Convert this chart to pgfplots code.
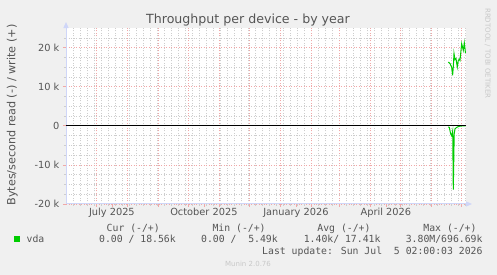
\documentclass[border=0pt]{standalone}
\usepackage{fontspec}
\setmainfont{DejaVu Sans}
\newfontfamily\monofont{DejaVu Sans Mono}
\usepackage{pgfplots}
\pgfplotsset{compat=1.18}
\usetikzlibrary{arrows.meta}
\definecolor{bgc}{HTML}{F0F0F0}
\definecolor{fontc}{HTML}{555555}
\definecolor{axisc}{HTML}{CFD6F8}
\definecolor{vdac}{HTML}{00CC00}
\definecolor{mgrid}{HTML}{F0A8A8}
\definecolor{ngrid}{HTML}{CDCDCD}
\definecolor{wmark}{HTML}{C8C8C8}

\pgfplotstableread{
x y
382.3 16300
384.0 15900
385.7 15000
386.6 12900
387.3 15000
388.0 18500
389.0 16900
390.0 17200
391.3 15000
392.3 16700
393.3 17000
394.0 16700
395.0 19300
395.7 21000
397.3 19300
398.3 21200
399.5 18560
}\writedata

\pgfplotstableread{
x y
382.3 -300
383.3 -400
384.7 -2100
385.7 -2600
386.7 -1300
387.3 -16300
388.2 -2100
389.0 -800
390.7 -400
392.3 -200
394.0 -100
396.0 -50
399.5 0
}\readdata

\begin{document}
\begin{tikzpicture}
\path[fill=bgc] (0,0) rectangle (497bp,275bp);
\path[use as bounding box] (0,0) rectangle (497bp,275bp);
\begin{axis}[
  at={(66bp,71bp)}, anchor=south west,
  scale only axis, width=400bp, height=176bp,
  xmin=0, xmax=400, ymin=-20000, ymax=25000,
  axis background/.style={fill=white},
  axis x line=bottom, axis y line=left,
  axis line style={draw=axisc, line width=1bp},
  x axis line style={-{Triangle[width=5bp,length=6bp]}, shorten >=-6bp},
  y axis line style={-{Triangle[width=5bp,length=6bp]}, shorten >=-6bp},
  xtick={30.7,61.7,92.7,122.7,153.7,183.7,214.7,245.7,273.7,304.7,334.7,365.7,395.7},
  xticklabels={},
  minor xtick={7.3,14.3,...,399.3},
  extra x ticks={45.9,137.9,229.9,319.9},
  extra x tick labels={July 2025,October 2025,January 2026,April 2026},
  extra x tick style={grid=none, tick style={draw=none},
    xticklabel style={anchor=base, yshift=-9bp}},
  ytick={-20000,-10000,0,10000,20000},
  yticklabels={-20 k,-10 k,0\hspace{5bp},10 k,20 k},
  minor ytick={-17500,-15000,-12500,-7500,-5000,-2500,2500,5000,7500,12500,15000,17500,22500},
  scaled y ticks=false,
  grid=both,
  major grid style={draw=mgrid, line width=0.6bp, dash pattern=on 1bp off 1.5bp},
  minor grid style={draw=ngrid, line width=0.5bp, dash pattern=on 1bp off 1.5bp},
  tick align=outside,
  major tick length=3bp, minor tick length=2bp,
  major tick style={draw=mgrid, line width=0.6bp},
  minor tick style={draw=ngrid, line width=0.5bp},
  tick label style={font=\fontsize{9.8bp}{11bp}\selectfont, text=fontc},
  yticklabel style={anchor=east, inner sep=0pt, xshift=-3.5bp},
  ylabel={Bytes/second read (-) / write (+)},
  ylabel style={at={(axis description cs:-0.12625,0.5057)}, rotate=0, anchor=base,
    font=\fontsize{11.2bp}{13bp}\selectfont, text=fontc},
  clip=true,
]
\addplot[vdac, line width=1bp] table[x=x,y=y] {\writedata};
\addplot[vdac, line width=1bp] table[x=x,y=y] {\readdata};
\addplot[black, line width=1bp] coordinates {(0,0) (400,0)};
\end{axis}

\node[anchor=base, text=fontc, font=\fontsize{12.6bp}{14bp}\selectfont] at (248bp,251.7bp) {Throughput per device - by year};
\node[anchor=base, rotate=-90, text=wmark, font=\fontsize{7bp}{8bp}\selectfont] at (485.3bp,221.7bp) {RRDTOOL / TOBI OETIKER};

\begin{scope}[every node/.style={text=fontc, font=\monofont\fontsize{9.8bp}{11bp}\selectfont, inner sep=0pt}]
\node[anchor=base east] at (160bp,43.8bp) {Cur (-/+)};
\node[anchor=base east] at (265.8bp,43.8bp) {Min (-/+)};
\node[anchor=base east] at (370.7bp,43.8bp) {Avg (-/+)};
\node[anchor=base east] at (476.7bp,43.8bp) {Max (-/+)};
\fill[vdac] (14bp,32.5bp) rectangle (20bp,38.5bp);
\node[anchor=base west] at (26.5bp,32.2bp) {vda};
\node[anchor=base east] at (176bp,32.2bp) {0.00~/~18.56k};
\node[anchor=base east] at (278bp,32.2bp) {0.00~/~~5.49k};
\node[anchor=base east] at (380.7bp,32.2bp) {1.40k/~17.41k};
\node[anchor=base east] at (482.7bp,32.2bp) {3.80M/696.69k};
\node[anchor=base east] at (482.7bp,20.5bp) {Last update: Sun Jul~~5 02:00:03 2026};
\end{scope}
\node[anchor=base, text=wmark, font=\fontsize{7bp}{8bp}\selectfont] at (248bp,8.1bp) {Munin 2.0.76};
\end{tikzpicture}
\end{document}
